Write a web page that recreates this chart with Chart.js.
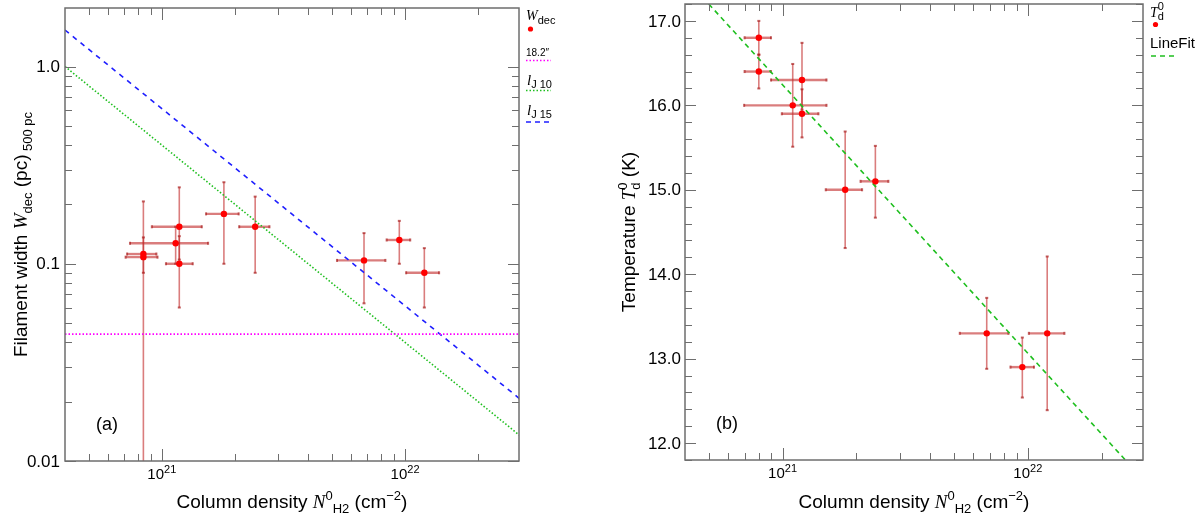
<!DOCTYPE html>
<html lang="en">
<head>
<meta charset="UTF-8" />
<title>Filament width and dust temperature vs column density</title>
<script src="https://cdn.jsdelivr.net/npm/chart.js@4.4.1/dist/chart.umd.min.js"></script>
<style>
  body { margin: 0; background: #fff; }
  .panel { position: absolute; top: 0; width: 600px; height: 514px; }
</style>
</head>
<body>
<div class="panel" style="left:0"><canvas id="chartA"></canvas></div>
<div class="panel" style="left:600px"><canvas id="chartB"></canvas></div>
<script>
// panel (a): deconvolved width vs central column density
const nA     = [8.4e20, 8.4e20, 1.14e21, 1.18e21, 1.18e21, 1.80e21, 2.42e21, 6.78e21, 9.47e21, 1.20e22];
const nALo   = [7.2e20, 7.1e20, 7.4e20, 1.04e21, 9.1e20, 1.52e21, 2.08e21, 5.25e21, 8.4e21, 1.01e22];
const nAHi   = [9.5e20, 9.6e20, 1.55e21, 1.34e21, 1.46e21, 2.07e21, 2.77e21, 8.3e21, 1.05e22, 1.38e22];
const wdec   = [0.112, 0.108, 0.127, 0.100, 0.154, 0.179, 0.154, 0.104, 0.132, 0.090];
const wdecLo = [0.005, 0.090, 0.100, 0.060, 0.105, 0.100, 0.090, 0.063, 0.100, 0.060];
const wdecHi = [0.207, 0.136, 0.154, 0.138, 0.244, 0.259, 0.219, 0.143, 0.165, 0.120];
const beamN  = [4e20, 3e22];
const beamW  = [0.044, 0.044];
const jeansN = [4e20, 3e22];
const lJ10   = [1.0, 0.0133];
const lJ15   = [1.53, 0.0204];

// panel (b): central dust temperature vs column density
const nB    = [8.0e20, 8.0e20, 1.10e21, 1.20e21, 1.20e21, 1.80e21, 2.39e21, 6.8e21, 9.5e21, 1.20e22];
const nBLo  = [7.0e20, 7.0e20, 6.97e20, 8.97e20, 9.93e20, 1.50e21, 2.08e21, 5.28e21, 8.5e21, 1.01e22];
const nBHi  = [8.97e20, 8.97e20, 1.51e21, 1.51e21, 1.40e21, 2.11e21, 2.70e21, 8.34e21, 1.06e22, 1.41e22];
const td    = [16.8, 16.4, 16.0, 16.3, 15.9, 15.0, 15.1, 13.3, 12.9, 13.3];
const tdLo  = [16.6, 16.2, 15.51, 15.95, 15.62, 14.31, 14.67, 12.88, 12.54, 12.39];
const tdHi  = [17.0, 16.6, 16.49, 16.74, 16.19, 15.69, 15.52, 13.72, 13.25, 14.21];
const fitN  = [5.0e20, 2.5e22];
const fitT  = [17.2, 11.8];

// ticks
const xTicks   = [1e21, 1e22];
const xExp     = ['21', '22'];
const yTicksA  = [0.01, 0.1, 1];
const yLabelsA = ['0.01', '0.1', '1.0'];
const yTicksB  = [12, 13, 14, 15, 16, 17];
const yLabelsB = ['12.0', '13.0', '14.0', '15.0', '16.0', '17.0'];

const SANS = '"Liberation Sans", Arial, Helvetica, sans-serif';
const SERIF = '"Liberation Serif", "Times New Roman", serif';
const AXIS = '#6e6e6e';
const ERR = 'rgba(195, 45, 45, 0.62)';

function pts(xs, ys) { return xs.map((v, i) => ({ x: v, y: ys[i] })); }

// parts: [text, font, dy, keepX]
function richWidth(ctx, parts) {
  let w = 0;
  parts.forEach(p => { ctx.font = p[1]; if (!p[3]) w += ctx.measureText(p[0]).width; });
  return w;
}
function drawRich(ctx, parts, x, y, align) {
  ctx.save();
  ctx.textBaseline = 'alphabetic';
  ctx.textAlign = 'left';
  ctx.fillStyle = '#000';
  let cx = align === 'center' ? x - richWidth(ctx, parts) / 2 : x;
  parts.forEach(p => {
    ctx.font = p[1];
    ctx.fillText(p[0], cx, y + (p[2] || 0));
    if (!p[3]) cx += ctx.measureText(p[0]).width;
  });
  ctx.restore();
}

function logMinors(min, max) {
  const out = [];
  for (let e = Math.floor(Math.log10(min)); e <= Math.ceil(Math.log10(max)); e++)
    for (let k = 2; k <= 9; k++) {
      const v = k * Math.pow(10, e);
      if (v > min && v < max) out.push(v);
    }
  return out;
}
function linMinors(min, max, step) {
  const out = [];
  for (let v = Math.ceil(min / step) * step; v < max; v += step) out.push(+v.toFixed(4));
  return out;
}

function drawTicks(chart, axis, values, len) {
  const { ctx, chartArea: a } = chart;
  const s = chart.scales[axis];
  ctx.save();
  ctx.strokeStyle = AXIS;
  ctx.lineWidth = 1;
  ctx.beginPath();
  values.forEach(v => {
    const p = Math.round(s.getPixelForValue(v)) + 0.5;
    if (axis === 'x') {
      ctx.moveTo(p, a.bottom); ctx.lineTo(p, a.bottom - len);
      ctx.moveTo(p, a.top); ctx.lineTo(p, a.top + len);
    } else {
      ctx.moveTo(a.left, p); ctx.lineTo(a.left + len, p);
      ctx.moveTo(a.right, p); ctx.lineTo(a.right - len, p);
    }
  });
  ctx.stroke();
  ctx.restore();
}

function drawErrors(chart, xs, xlo, xhi, ys, ylo, yhi) {
  const { ctx, chartArea: a, scales: { x, y } } = chart;
  ctx.save();
  ctx.beginPath();
  ctx.rect(a.left, a.top, a.right - a.left, a.bottom - a.top);
  ctx.clip();
  ctx.strokeStyle = ERR;
  ctx.fillStyle = 'rgba(170, 30, 30, 0.7)';
  xs.forEach((v, i) => {
    const px = x.getPixelForValue(v), py = y.getPixelForValue(ys[i]);
    const x0 = x.getPixelForValue(xlo[i]), x1 = x.getPixelForValue(xhi[i]);
    const y0 = y.getPixelForValue(ylo[i]), y1 = y.getPixelForValue(yhi[i]);
    ctx.lineWidth = 2.4;
    ctx.beginPath(); ctx.moveTo(x0, py); ctx.lineTo(x1, py); ctx.stroke();
    ctx.lineWidth = 1.6;
    ctx.beginPath(); ctx.moveTo(px, y0); ctx.lineTo(px, y1); ctx.stroke();
    ctx.fillRect(x0 - 1, py - 1.5, 2, 3);
    ctx.fillRect(x1 - 1, py - 1.5, 2, 3);
    ctx.fillRect(px - 1.5, y0 - 1, 3, 2);
    ctx.fillRect(px - 1.5, y1 - 1, 3, 2);
  });
  ctx.restore();
}

function drawFrame(chart) {
  const { ctx, chartArea: a } = chart;
  ctx.save();
  ctx.strokeStyle = AXIS;
  ctx.lineWidth = 1.5;
  ctx.strokeRect(a.left, a.top, a.right - a.left, a.bottom - a.top);
  ctx.restore();
}

function drawXLabels(chart) {
  const s = chart.scales.x;
  const { ctx, chartArea: a } = chart;
  xTicks.forEach((v, i) => {
    drawRich(ctx, [['10', `15px ${SANS}`, 0], [xExp[i], `11px ${SANS}`, -6]],
      s.getPixelForValue(v), a.bottom + 18, 'center');
  });
  drawRich(ctx, [
    ['Column density ', `19px ${SANS}`, 0],
    ['N', `italic 19px ${SERIF}`, 0],
    ['0', `13px ${SANS}`, -8],
    ['H2', `13px ${SANS}`, 5],
    [' (cm', `19px ${SANS}`, 0],
    ['\u22122', `13px ${SANS}`, -8],
    [')', `19px ${SANS}`, 0]
  ], (a.left + a.right) / 2, 508, 'center');
}

function drawYLabels(chart, ticks, labels, xr) {
  const s = chart.scales.y;
  const ctx = chart.ctx;
  ctx.save();
  ctx.font = `17px ${SANS}`;
  ctx.fillStyle = '#000';
  ctx.textAlign = 'right';
  ctx.textBaseline = 'middle';
  ticks.forEach((v, i) => ctx.fillText(labels[i], xr, s.getPixelForValue(v) + 1));
  ctx.restore();
}

function drawYTitle(chart, parts, xBase) {
  const { ctx, chartArea: a } = chart;
  ctx.save();
  ctx.translate(xBase, (a.top + a.bottom) / 2);
  ctx.rotate(-Math.PI / 2);
  drawRich(ctx, parts, 0, 0, 'center');
  ctx.restore();
}

function legendLine(ctx, x0, x1, y, color, dash) {
  ctx.save();
  ctx.strokeStyle = color;
  ctx.lineWidth = 1.6;
  ctx.setLineDash(dash);
  ctx.beginPath(); ctx.moveTo(x0, y); ctx.lineTo(x1, y); ctx.stroke();
  ctx.restore();
}
function legendDot(ctx, x, y) {
  ctx.save();
  ctx.fillStyle = '#ff0000';
  ctx.beginPath(); ctx.arc(x, y, 2.6, 0, Math.PI * 2); ctx.fill();
  ctx.restore();
}

const decorA = {
  id: 'decorA',
  beforeDatasetsDraw(chart) {
    drawErrors(chart, nA, nALo, nAHi, wdec, wdecLo, wdecHi);
  },
  afterDraw(chart) {
    const ctx = chart.ctx;
    const x = chart.scales.x, y = chart.scales.y;
    drawFrame(chart);
    drawTicks(chart, 'x', xTicks, 12);
    drawTicks(chart, 'x', logMinors(x.min, x.max), 7);
    drawTicks(chart, 'y', yTicksA, 11);
    drawTicks(chart, 'y', logMinors(y.min, y.max), 7);
    drawXLabels(chart);
    drawYLabels(chart, yTicksA, yLabelsA, 60);
    drawYTitle(chart, [
      ['Filament width ', `19px ${SANS}`, 0],
      ['W', `italic 19px ${SERIF}`, 0],
      ['dec', `13px ${SANS}`, 5],
      [' (pc)', `19px ${SANS}`, 0],
      [' 500 pc', `13px ${SANS}`, 5]
    ], 27);
    drawRich(ctx, [['(a)', `18px ${SANS}`, 0]], 96, 430, 'left');
    // legend
    drawRich(ctx, [['W', `italic 14px ${SERIF}`, 0], ['dec', `11px ${SANS}`, 4]], 526, 20, 'left');
    legendDot(ctx, 530.5, 29);
    drawRich(ctx, [['18.2\u2033', `10px ${SANS}`, 0]], 526, 56, 'left');
    legendLine(ctx, 526, 551, 60.5, '#ff00ff', [1.5, 2]);
    drawRich(ctx, [['l', `italic 15px ${SERIF}`, 0], ['J 10', `11px ${SANS}`, 3]], 527, 85, 'left');
    legendLine(ctx, 526, 551, 90.5, '#1fbf1f', [1.5, 2]);
    drawRich(ctx, [['l', `italic 15px ${SERIF}`, 0], ['J 15', `11px ${SANS}`, 3]], 527, 115, 'left');
    legendLine(ctx, 526, 551, 122, '#1f1fff', [5, 4]);
  }
};

const decorB = {
  id: 'decorB',
  beforeDatasetsDraw(chart) {
    drawErrors(chart, nB, nBLo, nBHi, td, tdLo, tdHi);
  },
  afterDraw(chart) {
    const ctx = chart.ctx;
    const x = chart.scales.x, y = chart.scales.y;
    drawFrame(chart);
    drawTicks(chart, 'x', xTicks, 12);
    drawTicks(chart, 'x', logMinors(x.min, x.max), 7);
    drawTicks(chart, 'y', yTicksB, 11);
    drawTicks(chart, 'y', linMinors(y.min, y.max, 0.2).filter(v => !yTicksB.includes(v)), 7);
    drawXLabels(chart);
    drawYLabels(chart, yTicksB, yLabelsB, 81);
    drawYTitle(chart, [
      ['Temperature ', `19px ${SANS}`, 0],
      ['T', `italic 19px ${SERIF}`, 0],
      ['d', `13px ${SANS}`, 5, true],
      ['0', `13px ${SANS}`, -8],
      [' (K)', `19px ${SANS}`, 0]
    ], 35);
    drawRich(ctx, [['(b)', `18px ${SANS}`, 0]], 116, 429, 'left');
    // legend
    drawRich(ctx, [['T', `italic 14px ${SERIF}`, 0], ['d', `11px ${SANS}`, 3, true], ['0', `11px ${SANS}`, -7]], 550, 17, 'left');
    legendDot(ctx, 555.5, 24.5);
    drawRich(ctx, [['LineFit', `15px ${SANS}`, 0]], 550, 48, 'left');
    legendLine(ctx, 551, 576, 56, '#1fbf1f', [5, 4]);
  }
};

const baseOptions = (pad, xr, yr, yType) => ({
  responsive: true,
  maintainAspectRatio: false,
  animation: false,
  layout: { padding: pad },
  scales: {
    x: { type: 'logarithmic', min: xr[0], max: xr[1], display: false },
    y: { type: yType, min: yr[0], max: yr[1], display: false }
  },
  plugins: { legend: { display: false }, tooltip: { enabled: false } }
});

new Chart(document.getElementById('chartA'), {
  type: 'scatter',
  data: {
    datasets: [
      { data: pts(nA, wdec), pointRadius: 3.2, pointBackgroundColor: '#ff0000', pointBorderWidth: 0, order: 0 },
      { data: pts(beamN, beamW), showLine: true, borderColor: '#ff00ff', borderWidth: 1.6, borderDash: [1.5, 2], pointRadius: 0, order: 1 },
      { data: pts(jeansN, lJ10), showLine: true, borderColor: '#1fbf1f', borderWidth: 1.6, borderDash: [1.5, 2], pointRadius: 0, order: 1 },
      { data: pts(jeansN, lJ15), showLine: true, borderColor: '#1f1fff', borderWidth: 1.6, borderDash: [5, 5], pointRadius: 0, order: 1 }
    ]
  },
  options: baseOptions({ left: 65, right: 81, top: 8, bottom: 53 }, [4e20, 2.94e22], [0.01, 1.98], 'logarithmic'),
  plugins: [decorA]
});

new Chart(document.getElementById('chartB'), {
  type: 'scatter',
  data: {
    datasets: [
      { data: pts(nB, td), pointRadius: 3.2, pointBackgroundColor: '#ff0000', pointBorderWidth: 0, order: 0 },
      { data: pts(fitN, fitT), showLine: true, borderColor: '#1fbf1f', borderWidth: 1.6, borderDash: [5, 4], pointRadius: 0, order: 1 }
    ]
  },
  options: baseOptions({ left: 85, right: 57, top: 3, bottom: 54 }, [4e20, 2.95e22], [11.8, 17.2], 'linear'),
  plugins: [decorB]
});
</script>
</body>
</html>
